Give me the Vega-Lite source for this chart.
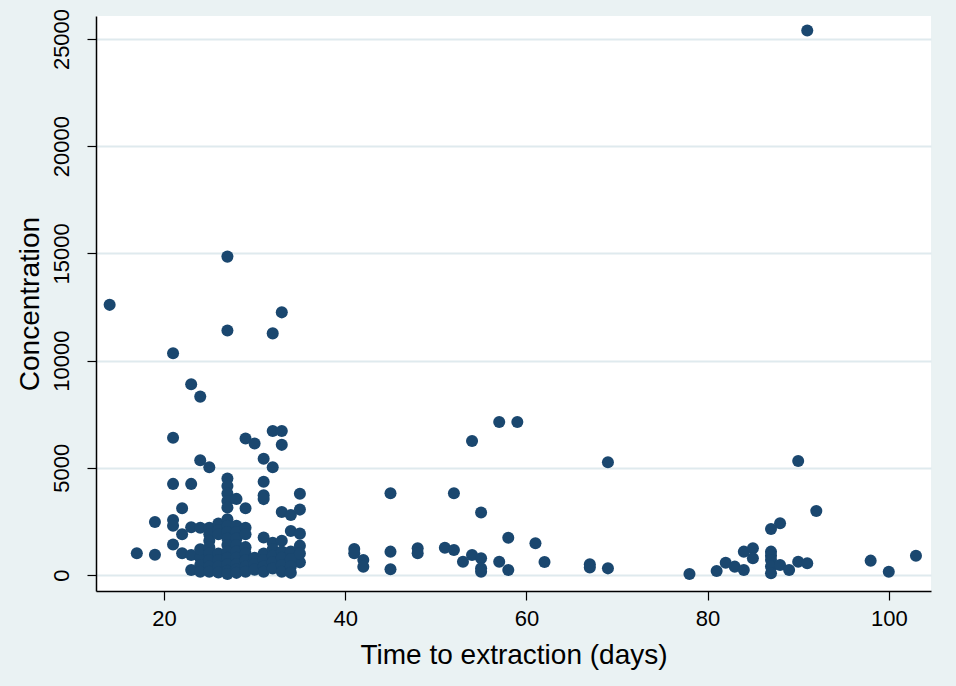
{
  "$schema": "https://vega.github.io/schema/vega-lite/v6.json",
  "autosize": "none",
  "width": 835,
  "height": 575,
  "padding": {"left": 96, "top": 16, "right": 25, "bottom": 95},
  "background": "#EAF2F3",
  "view": {"fill": "white", "stroke": null},
  "config": {"font": "Liberation Sans"},
  "data": {
    "values": [
      {"days": 14, "conc": 12600}, {"days": 27, "conc": 14850}, {"days": 33, "conc": 12250}, {"days": 27, "conc": 11400},
      {"days": 32, "conc": 11270}, {"days": 21, "conc": 10340}, {"days": 23, "conc": 8900}, {"days": 24, "conc": 8320},
      {"days": 21, "conc": 6400}, {"days": 29, "conc": 6370}, {"days": 30, "conc": 6130}, {"days": 32, "conc": 6720},
      {"days": 33, "conc": 6720}, {"days": 33, "conc": 6070}, {"days": 24, "conc": 5350}, {"days": 25, "conc": 5030},
      {"days": 31, "conc": 5420}, {"days": 32, "conc": 5030}, {"days": 21, "conc": 4250}, {"days": 23, "conc": 4250},
      {"days": 27, "conc": 4500}, {"days": 27, "conc": 4150}, {"days": 27, "conc": 3800}, {"days": 27, "conc": 3450},
      {"days": 27, "conc": 3150}, {"days": 28, "conc": 3550}, {"days": 29, "conc": 3110}, {"days": 31, "conc": 4350},
      {"days": 31, "conc": 3720}, {"days": 31, "conc": 3540}, {"days": 35, "conc": 3790}, {"days": 22, "conc": 3110},
      {"days": 33, "conc": 2940}, {"days": 34, "conc": 2800}, {"days": 35, "conc": 3050}, {"days": 19, "conc": 2470},
      {"days": 21, "conc": 2570}, {"days": 21, "conc": 2300}, {"days": 23, "conc": 2230}, {"days": 17, "conc": 1010},
      {"days": 19, "conc": 940}, {"days": 21, "conc": 1420}, {"days": 22, "conc": 1010}, {"days": 22, "conc": 1900},
      {"days": 23, "conc": 930}, {"days": 24, "conc": 790}, {"days": 23, "conc": 230}, {"days": 24, "conc": 470},
      {"days": 31, "conc": 1750}, {"days": 34, "conc": 2050}, {"days": 35, "conc": 1930}, {"days": 35, "conc": 1370},
      {"days": 35, "conc": 590},
      {"days": 24, "conc": 2200}, {"days": 24, "conc": 1200}, {"days": 24, "conc": 150},
      {"days": 25, "conc": 2200}, {"days": 25, "conc": 1900}, {"days": 25, "conc": 1600}, {"days": 25, "conc": 1300},
      {"days": 25, "conc": 1000}, {"days": 25, "conc": 700}, {"days": 25, "conc": 400}, {"days": 25, "conc": 150},
      {"days": 26, "conc": 2400}, {"days": 26, "conc": 2100}, {"days": 26, "conc": 1900}, {"days": 26, "conc": 1000},
      {"days": 26, "conc": 700}, {"days": 26, "conc": 400}, {"days": 26, "conc": 120},
      {"days": 27, "conc": 2600}, {"days": 27, "conc": 2300}, {"days": 27, "conc": 2000}, {"days": 27, "conc": 1700},
      {"days": 27, "conc": 1400}, {"days": 27, "conc": 1100}, {"days": 27, "conc": 800}, {"days": 27, "conc": 500},
      {"days": 27, "conc": 200}, {"days": 27, "conc": 50},
      {"days": 28, "conc": 2300}, {"days": 28, "conc": 2000}, {"days": 28, "conc": 1700}, {"days": 28, "conc": 1400},
      {"days": 28, "conc": 1100}, {"days": 28, "conc": 800}, {"days": 28, "conc": 500}, {"days": 28, "conc": 250},
      {"days": 28, "conc": 100},
      {"days": 29, "conc": 2200}, {"days": 29, "conc": 1900}, {"days": 29, "conc": 1300}, {"days": 29, "conc": 1000},
      {"days": 29, "conc": 700}, {"days": 29, "conc": 400}, {"days": 29, "conc": 150},
      {"days": 30, "conc": 800}, {"days": 30, "conc": 500}, {"days": 30, "conc": 250},
      {"days": 31, "conc": 1000}, {"days": 31, "conc": 700}, {"days": 31, "conc": 400}, {"days": 31, "conc": 150},
      {"days": 32, "conc": 1500}, {"days": 32, "conc": 1200}, {"days": 32, "conc": 900}, {"days": 32, "conc": 600},
      {"days": 32, "conc": 300},
      {"days": 33, "conc": 1600}, {"days": 33, "conc": 1100}, {"days": 33, "conc": 800}, {"days": 33, "conc": 450},
      {"days": 33, "conc": 150},
      {"days": 34, "conc": 1100}, {"days": 34, "conc": 750}, {"days": 34, "conc": 400}, {"days": 34, "conc": 100},
      {"days": 35, "conc": 1000},
      {"days": 41, "conc": 1210}, {"days": 41, "conc": 1010}, {"days": 42, "conc": 700}, {"days": 42, "conc": 390},
      {"days": 45, "conc": 3810}, {"days": 45, "conc": 1090}, {"days": 45, "conc": 270}, {"days": 48, "conc": 1250},
      {"days": 48, "conc": 1010}, {"days": 51, "conc": 1270}, {"days": 52, "conc": 3810}, {"days": 52, "conc": 1170},
      {"days": 53, "conc": 620}, {"days": 54, "conc": 6250}, {"days": 54, "conc": 930}, {"days": 55, "conc": 2920},
      {"days": 55, "conc": 780}, {"days": 55, "conc": 310}, {"days": 55, "conc": 150}, {"days": 57, "conc": 7140},
      {"days": 57, "conc": 620}, {"days": 58, "conc": 1740}, {"days": 58, "conc": 230}, {"days": 59, "conc": 7140},
      {"days": 61, "conc": 1480}, {"days": 62, "conc": 610}, {"days": 67, "conc": 500}, {"days": 67, "conc": 350},
      {"days": 69, "conc": 5260}, {"days": 69, "conc": 310},
      {"days": 78, "conc": 50}, {"days": 81, "conc": 190}, {"days": 82, "conc": 570}, {"days": 83, "conc": 390},
      {"days": 84, "conc": 1090}, {"days": 84, "conc": 230}, {"days": 85, "conc": 1250}, {"days": 85, "conc": 780},
      {"days": 87, "conc": 2150}, {"days": 88, "conc": 2410}, {"days": 87, "conc": 1090}, {"days": 87, "conc": 900},
      {"days": 87, "conc": 700}, {"days": 87, "conc": 400}, {"days": 87, "conc": 80}, {"days": 88, "conc": 470},
      {"days": 89, "conc": 230}, {"days": 90, "conc": 5320}, {"days": 90, "conc": 620}, {"days": 91, "conc": 550},
      {"days": 91, "conc": 25400}, {"days": 92, "conc": 2990}, {"days": 98, "conc": 670}, {"days": 100, "conc": 150},
      {"days": 103, "conc": 900}
    ]
  },
  "mark": {"type": "circle", "size": 145, "color": "#1A476F", "opacity": 1},
  "encoding": {
    "x": {
      "field": "days", "type": "quantitative",
      "scale": {"domain": [12.494, 104.66], "nice": false, "zero": false},
      "axis": {
        "title": "Time to extraction (days)", "values": [20, 40, 60, 80, 100],
        "grid": false, "domainColor": "#000000", "domainWidth": 1.5,
        "tickColor": "#000000", "tickSize": 9, "tickWidth": 1.2,
        "labelFontSize": 22, "labelColor": "#000000", "labelPadding": 8,
        "titleFontSize": 28, "titleFontWeight": "normal", "titleColor": "#000000", "titlePadding": 12
      }
    },
    "y": {
      "field": "conc", "type": "quantitative",
      "scale": {"domain": [-746, 26073], "nice": false, "zero": false},
      "axis": {
        "title": "Concentration", "values": [0, 5000, 10000, 15000, 20000, 25000], "format": "d",
        "grid": true, "gridColor": "#DFEAEE", "gridWidth": 2,
        "domainColor": "#000000", "domainWidth": 1.5,
        "tickColor": "#000000", "tickSize": 9, "tickWidth": 1.2,
        "labelAngle": -90, "labelAlign": "center", "labelBaseline": "bottom",
        "labelFontSize": 22, "labelColor": "#000000", "labelPadding": 14,
        "titleFontSize": 28, "titleFontWeight": "normal", "titleColor": "#000000", "titlePadding": 6
      }
    }
  }
}
